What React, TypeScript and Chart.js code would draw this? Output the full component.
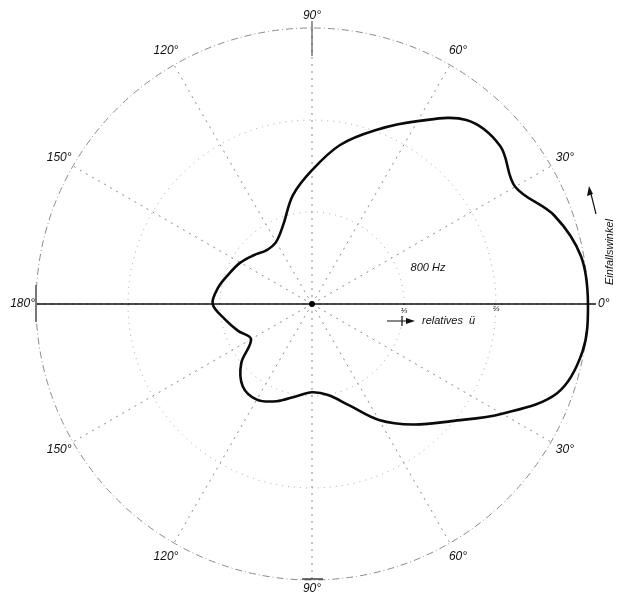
import React, { useEffect, useRef } from "react";
import { Chart, registerables } from "chart.js";

Chart.register(...registerables);

// Angle of incidence in degrees (counter-clockwise from the 0° axis)
const ANGLES_DEG = [
  0, 10, 20, 30, 40, 50, 60, 70, 80, 90, 100, 110,
  120, 130, 140, 150, 160, 170, 180, 190, 200, 210, 220, 230,
  240, 250, 260, 270, 280, 290, 300, 310, 320, 330, 340, 350,
];

// Relative transmission ü at 800 Hz (outer circle = 1)
const REL_U = [
  1.0, 0.99, 0.935, 0.85, 0.89, 0.87, 0.765, 0.67, 0.585, 0.485, 0.4, 0.305,
  0.26, 0.255, 0.275, 0.3, 0.32, 0.345, 0.36, 0.32, 0.285, 0.255, 0.335, 0.39,
  0.4, 0.375, 0.34, 0.32, 0.335, 0.39, 0.485, 0.57, 0.66, 0.795, 0.945, 0.995,
];

// Rings of the polar grid
const RING_VALUES = [0, 1 / 3, 2 / 3, 1];

// Angle labels around the rim: [angle, text]
const RIM_LABELS: [number, string][] = [
  [30, "30°"], [60, "60°"], [120, "120°"], [150, "150°"],
  [210, "150°"], [240, "120°"], [300, "60°"], [330, "30°"],
];

const FREQ_LABEL = "800 Hz";
const AXIS_LABEL = "relatives  ü";
const ANGLE_TITLE = "Einfallswinkel";

const FONT = "italic 12px 'Liberation Sans', 'DejaVu Sans', sans-serif";

// Radar charts run clockwise from the start angle; list the values in that order
const order = ANGLES_DEG.map((_, i) => (ANGLES_DEG.length - i) % ANGLES_DEG.length);
const chartLabels = order.map((k) => `${ANGLES_DEG[k]}°`);
const chartValues = order.map((k) => REL_U[k]);

const decor = {
  id: "decor",
  beforeDatasetsDraw(chart: any) {
    const r = chart.scales.r;
    const cx = r.xCenter;
    const cy = r.yCenter;
    const R = r.drawingArea;
    const c = chart.ctx as CanvasRenderingContext2D;
    c.save();
    // horizontal 0°–180° axis
    c.strokeStyle = "#111";
    c.lineWidth = 1.6;
    c.beginPath();
    c.moveTo(cx - R, cy);
    c.lineTo(cx + R + 8, cy);
    c.stroke();
    // bar at 180°
    c.strokeStyle = "#777";
    c.lineWidth = 2;
    c.beginPath();
    c.moveTo(cx - R, cy - 19);
    c.lineTo(cx - R, cy + 18);
    c.stroke();
    // tick under the upper 90° label
    c.strokeStyle = "#555";
    c.lineWidth = 1.2;
    c.beginPath();
    c.moveTo(cx, cy - R - 7);
    c.lineTo(cx, cy - R + 28);
    c.stroke();
    // bar over the lower 90° label
    c.strokeStyle = "#222";
    c.lineWidth = 1.3;
    c.beginPath();
    c.moveTo(cx - 10, cy + R - 1);
    c.lineTo(cx + 11, cy + R - 1);
    c.stroke();
    c.restore();
  },
  afterDatasetsDraw(chart: any) {
    const r = chart.scales.r;
    const cx = r.xCenter;
    const cy = r.yCenter;
    const R = r.drawingArea;
    const c = chart.ctx as CanvasRenderingContext2D;
    c.save();
    // centre point
    c.fillStyle = "#000";
    c.beginPath();
    c.arc(cx, cy, 3, 0, Math.PI * 2);
    c.fill();

    c.font = FONT;
    c.fillStyle = "#111";
    c.textBaseline = "middle";
    c.textAlign = "center";
    RIM_LABELS.forEach(([deg, txt]) => {
      const a = (deg * Math.PI) / 180;
      const d = R + 16;
      c.fillText(txt, cx + d * Math.cos(a), cy - d * Math.sin(a));
    });
    c.fillText("90°", cx, cy - R - 12);
    c.fillText("90°", cx, cy + R + 9);
    c.textAlign = "right";
    c.fillText("180°", cx - R - 1, cy);
    c.textAlign = "left";
    c.fillText("0°", cx + R + 10, cy);

    // frequency and ring labels
    c.font = "italic 11px 'Liberation Sans', 'DejaVu Sans', sans-serif";
    c.textAlign = "center";
    c.fillText(FREQ_LABEL, cx + 116, cy - 36);
    c.font = "italic 8px 'Liberation Sans', 'DejaVu Sans', sans-serif";
    c.fillText("⅓", cx + R / 3, cy + 7);
    c.fillText("⅔", cx + (2 * R) / 3, cy + 5);

    // arrow for the radial quantity
    c.strokeStyle = "#111";
    c.lineWidth = 1.2;
    c.beginPath();
    c.moveTo(cx + 75, cy + 17);
    c.lineTo(cx + 100, cy + 17);
    c.moveTo(cx + 90, cy + 12);
    c.lineTo(cx + 90, cy + 22);
    c.stroke();
    c.fillStyle = "#111";
    c.beginPath();
    c.moveTo(cx + 103, cy + 17);
    c.lineTo(cx + 94, cy + 14);
    c.lineTo(cx + 94, cy + 20);
    c.closePath();
    c.fill();
    c.font = "italic 11px 'Liberation Sans', 'DejaVu Sans', sans-serif";
    c.textAlign = "left";
    c.fillText(AXIS_LABEL, cx + 110, cy + 17);

    // vertical "Einfallswinkel" caption with its arrow
    c.save();
    c.translate(cx + R + 22, cy - 52);
    c.rotate(-Math.PI / 2);
    c.textAlign = "center";
    c.fillText(ANGLE_TITLE, 0, 0);
    c.restore();
    c.beginPath();
    c.moveTo(cx + R + 8, cy - 90);
    c.lineTo(cx + R + 2, cy - 114);
    c.stroke();
    c.beginPath();
    c.moveTo(cx + R + 1, cy - 118);
    c.lineTo(cx + R - 1, cy - 108);
    c.lineTo(cx + R + 5, cy - 110);
    c.closePath();
    c.fill();
    c.restore();
  },
};

export default function App() {
  const ref = useRef<HTMLCanvasElement | null>(null);

  useEffect(() => {
    if (!ref.current) return;
    const chart = new Chart(ref.current, {
      type: "radar",
      data: {
        labels: chartLabels,
        datasets: [
          {
            data: chartValues,
            borderColor: "#0a0a0a",
            borderWidth: 2.6,
            pointRadius: 0,
            fill: false,
            tension: 0.35,
          },
        ],
      },
      options: {
        responsive: false,
        animation: false,
        layout: { padding: { left: 36, right: 33, top: 28, bottom: 16 } },
        plugins: { legend: { display: false }, tooltip: { enabled: false } },
        scales: {
          r: {
            min: 0,
            max: 1,
            startAngle: 90,
            afterBuildTicks: (scale: any) => {
              scale.ticks = RING_VALUES.map((v) => ({ value: v }));
            },
            ticks: { display: false },
            pointLabels: { display: false },
            grid: {
              circular: true,
              color: (ctx: any) => (ctx.index === 3 ? "#8a8a8a" : "#a0a0a0"),
              lineWidth: 1,
            },
            border: {
              dash: (ctx: any) => (ctx.index === 3 ? [7, 3, 1, 3] : [1, 5]),
            } as any,
            angleLines: {
              display: true,
              color: (ctx: any) => (ctx.index % 3 === 0 ? "#8a8a8a" : "rgba(0,0,0,0)"),
              lineWidth: 1,
              borderDash: [2, 5],
            },
          },
        },
      },
      plugins: [decor],
    });
    return () => chart.destroy();
  }, []);

  return (
    <div style={{ position: "absolute", left: 0, top: 0, width: 621, height: 596, background: "#fff" }}>
      <canvas ref={ref} width={621} height={596} style={{ display: "block" }} />
    </div>
  );
}
